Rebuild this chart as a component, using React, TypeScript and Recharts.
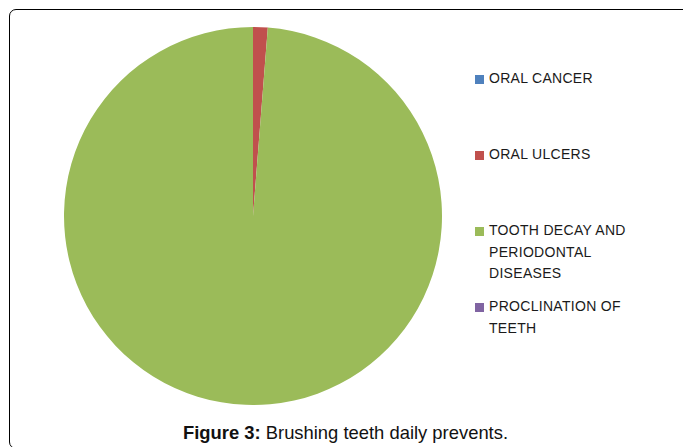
import React from "react";
import { PieChart, Pie, Cell, Legend } from "recharts";

const categories = [
  "ORAL CANCER",
  "ORAL ULCERS",
  "TOOTH DECAY AND PERIODONTAL DISEASES",
  "PROCLINATION OF TEETH",
];
const counts = [0, 1, 79, 0];
const colors = ["#4F81BD", "#C0504D", "#9BBB59", "#8064A2"];

const data = categories.map((name, i) => ({ name, value: counts[i] }));

const legendFont = "'Liberation Sans', Arial, sans-serif";

function LegendList(props: any) {
  // keep the legend in category order rather than alphabetical
  const payload = [...(props.payload || [])].sort(
    (a: any, b: any) => categories.indexOf(a.value) - categories.indexOf(b.value)
  );
  return (
    <div style={{ width: 170 }}>
      {payload.map((entry: any, i: number) => (
        <div
          key={i}
          style={{
            height: 76,
            display: "flex",
            alignItems: "flex-start",
          }}
        >
          <div
            style={{
              width: 9,
              height: 9,
              marginTop: 7,
              marginRight: 5,
              flex: "0 0 9px",
              background: entry.color,
            }}
          />
          <div
            style={{
              fontFamily: legendFont,
              fontSize: 14,
              lineHeight: "21.5px",
              color: "#1a1a1a",
              width: 150,
              letterSpacing: 0.3,
            }}
          >
            {entry.value}
          </div>
        </div>
      ))}
    </div>
  );
}

export default function App() {
  return (
    <div
      style={{
        position: "absolute",
        left: 0,
        top: 0,
        width: 683,
        height: 447,
        overflow: "hidden",
        background: "#fff",
      }}
    >
      <div
        style={{
          position: "absolute",
          left: 9,
          top: 9,
          width: 690,
          height: 440,
          border: "1px solid #000",
          borderRadius: 7,
          boxSizing: "border-box",
        }}
      />
      <div style={{ position: "absolute", left: 0, top: 0 }}>
        <PieChart
          width={683}
          height={447}
          margin={{ top: 0, right: 0, bottom: 0, left: 0 }}
        >
          <Pie
            data={data}
            dataKey="value"
            nameKey="name"
            cx={253}
            cy={216}
            outerRadius={189}
            startAngle={90}
            endAngle={-270}
            stroke="none"
            isAnimationActive={false}
          >
            {data.map((d, i) => (
              <Cell key={d.name} fill={colors[i]} />
            ))}
          </Pie>
          <Legend
            layout="vertical"
            align="right"
            verticalAlign="top"
            content={LegendList}
            wrapperStyle={{ left: 475, top: 68, width: 180 }}
          />
        </PieChart>
      </div>
      <div
        style={{
          position: "absolute",
          left: 0,
          width: 691,
          top: 422,
          textAlign: "center",
          fontFamily: "'Liberation Sans', Arial, sans-serif",
          fontSize: 18.4,
          color: "#111",
          whiteSpace: "nowrap",
        }}
      >
        <b>Figure 3:</b> Brushing teeth daily prevents.
      </div>
    </div>
  );
}
